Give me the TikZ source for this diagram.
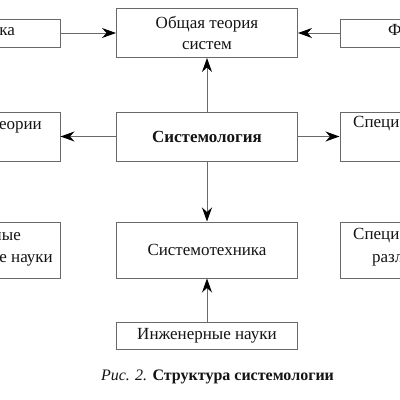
\documentclass[tikz,border=0pt]{standalone}
\usepackage{fontspec}
\setmainfont{Liberation Serif}
\usetikzlibrary{arrows.meta}
\definecolor{linegray}{RGB}{105,105,105}
\definecolor{txt}{RGB}{20,20,20}
\begin{document}
\begin{tikzpicture}[x=1pt,y=-1pt,
  box/.style={draw=linegray, line width=1pt, inner sep=0pt, align=center,
    font=\fontsize{17}{21}\selectfont, text=txt},
  conn/.style={draw=linegray, line width=1pt,
    -{Stealth[length=14pt,width=10pt,inset=4.5pt,color=black]}},
  lbl/.style={inner sep=0pt, font=\fontsize{17}{21}\selectfont, text=txt,
    text height=0.7em, text depth=0.25em}]
\useasboundingbox (0,0) rectangle (400,400);
\clip (0,0) rectangle (400,400);
\fill[white] (0,0) rectangle (400,400);
% top row
\node[box, minimum width=181pt, minimum height=49pt] (ots) at (207,33) {Общая теория\\систем};
\node[box, minimum width=120pt, minimum height=28pt] (lt) at (0,33) {};
\node[box, minimum width=120pt, minimum height=28pt] (rt) at (400,33) {};
% middle row
\node[box, minimum width=181pt, minimum height=49pt, font=\fontsize{17}{21}\selectfont\bfseries] (sys) at (207,136.5) {Системология};
\node[box, minimum width=120pt, minimum height=49pt] (lm) at (0,136.5) {};
\node[box, minimum width=120pt, minimum height=49pt] (rm) at (400,136.5) {};
% bottom row
\node[box, minimum width=181pt, minimum height=56pt] (stech) at (207,250) {Системотехника};
\node[box, minimum width=120pt, minimum height=56pt] (lb) at (0,250) {};
\node[box, minimum width=120pt, minimum height=56pt] (rb) at (400,250) {};
\node[box, minimum width=181pt, minimum height=27pt] (inzh) at (207,335.5) {Инженерные науки};
% visible fragments of the cut side boxes
\node[lbl, anchor=east] (t1) at (15,33) {ка};
\node[lbl, anchor=west] (t2) at (388,33) {Ф};
\node[lbl, anchor=east] (t3) at (42,127) {еории};
\node[lbl, anchor=west] (t4) at (353,125) {Специ};
\node[lbl, anchor=east] (t5) at (21,238) {ные};
\node[lbl, anchor=east] (t6) at (53,260) {е науки};
\node[lbl, anchor=west] (t7) at (353,237) {Специ};
\node[lbl, anchor=west] (t8) at (372,260) {разл};
% connectors
\draw[conn] (lt) -- (ots);
\draw[conn] (rt) -- (ots);
\draw[conn] (sys) -- (ots);
\draw[conn] (sys) -- (lm);
\draw[conn] (sys) -- (rm);
\draw[conn] (sys) -- (stech);
\draw[conn] (inzh) -- (stech);
% caption
\node[lbl, font=\fontsize{16}{20}\selectfont] (cap) at (217.5,378) {\textit{Рис. 2.} \textbf{Структура системологии}};
\end{tikzpicture}
\end{document}
